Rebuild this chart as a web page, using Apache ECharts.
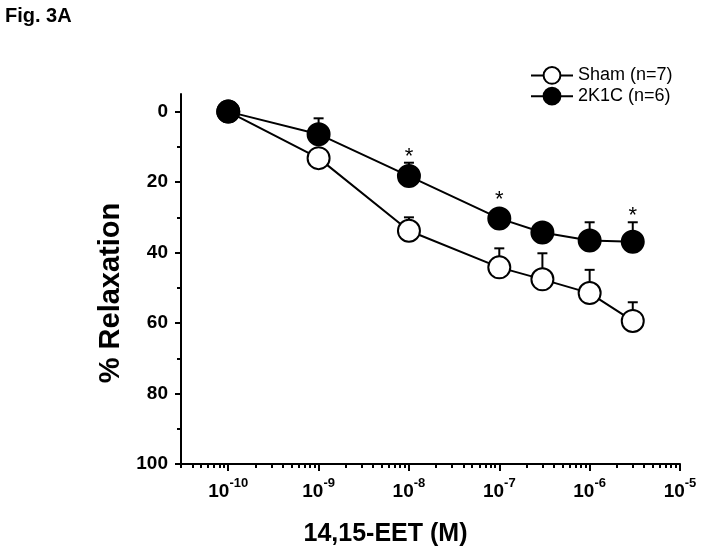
<!DOCTYPE html>
<html>
<head>
<meta charset="utf-8">
<script src="https://cdn.jsdelivr.net/npm/echarts@6/dist/echarts.min.js"></script>
<style>
html,body{margin:0;padding:0;background:#fff;}
#chart{width:704px;height:555px;}
</style>
</head>
<body>
<div id="chart"></div>
<script>
// ---- data ----
var concentrations = [1e-10, 1e-9, 1e-8, 1e-7, 3e-7, 1e-6, 3e-6];
var shamValues = [0, 13.2, 33.8, 44.2, 47.6, 51.5, 59.4];
var shamErrors = [0, 0, 3.8, 5.4, 7.4, 6.6, 5.3];
var k1cValues = [0, 6.4, 18.3, 30.3, 34.3, 36.6, 36.9];
var k1cErrors = [0, 4.5, 3.8, 0, 0, 5.2, 5.5];
var k1cSignificant = [false, false, true, true, false, false, true];
var xMajorTicks = [1e-10, 1e-9, 1e-8, 1e-7, 1e-6, 1e-5];
var xMinorTicks = [3e-11, 4e-11, 5e-11, 6e-11, 7e-11, 8e-11, 9e-11,
  2e-10, 3e-10, 4e-10, 5e-10, 6e-10, 7e-10, 8e-10, 9e-10,
  2e-9, 3e-9, 4e-9, 5e-9, 6e-9, 7e-9, 8e-9, 9e-9,
  2e-8, 3e-8, 4e-8, 5e-8, 6e-8, 7e-8, 8e-8, 9e-8,
  2e-7, 3e-7, 4e-7, 5e-7, 6e-7, 7e-7, 8e-7, 9e-7,
  2e-6, 3e-6, 4e-6, 5e-6, 6e-6, 7e-6, 8e-6, 9e-6];
var yMajorTicks = [0, 20, 40, 60, 80, 100];
var yMinorTicks = [10, 30, 50, 70, 90];
var seriesNames = ['Sham (n=7)', '2K1C (n=6)'];

// ---- build ----
function pairs(vals) { return concentrations.map(function (c, i) { return [c, vals[i]]; }); }
function triples(vals, errs) { return concentrations.map(function (c, i) { return [c, vals[i], errs[i]]; }); }
var FONT = '"Liberation Sans", Arial, sans-serif';

function errorBarRender(params, api) {
  var x = api.value(0), v = api.value(1), e = api.value(2);
  if (!(e > 0)) return null;
  var p = api.coord([x, v]);
  var q = api.coord([x, v - e]);
  var st = { stroke: '#000', lineWidth: 2 };
  return {
    type: 'group',
    children: [
      { type: 'line', shape: { x1: p[0], y1: p[1], x2: q[0], y2: q[1] }, style: st },
      { type: 'line', shape: { x1: q[0] - 5, y1: q[1], x2: q[0] + 5, y2: q[1] }, style: st }
    ]
  };
}

function starRender(params, api) {
  var idx = params.dataIndex;
  if (!k1cSignificant[idx]) return null;
  var x = api.value(0), v = api.value(1), e = api.value(2);
  var p = api.coord([x, v]);
  var q = api.coord([x, v - e]);
  var top = Math.min(q[1], p[1] - 12);
  return {
    type: 'text',
    style: {
      text: '*', x: p[0], y: top - 6,
      fontSize: 22, fontFamily: FONT, fill: '#000',
      align: 'center', verticalAlign: 'middle'
    }
  };
}

var chart = echarts.init(document.getElementById('chart'), null, { renderer: 'canvas' });
var option = {
  animation: false,
  backgroundColor: '#fff',
  title: {
    text: 'Fig. 3A', left: 0, top: 1,
    textStyle: { fontFamily: FONT, fontWeight: 'bold', fontSize: 20, color: '#000' }
  },
  legend: {
    orient: 'vertical', left: 525, top: 61,
    itemWidth: 42, itemHeight: 21, itemGap: 2,
    data: seriesNames,
    textStyle: { fontFamily: FONT, fontSize: 18, color: '#000' }
  },
  grid: { left: 181, right: 24, top: 94, bottom: 91, containLabel: false },
  xAxis: [{
    type: 'log', logBase: 10, min: 3e-11, max: 1e-5, position: 'bottom',
    name: '14,15-EET (M)', nameLocation: 'middle', nameGap: 58,
    nameTextStyle: { fontFamily: FONT, fontWeight: 'bold', fontSize: 25, color: '#000', padding: [0, 90, 0, 0] },
    axisLine: { show: true, onZero: false, lineStyle: { color: '#000', width: 2 } },
    axisTick: { show: true, customValues: xMajorTicks, length: 7, lineStyle: { color: '#000', width: 2 } },
    axisLabel: {
      customValues: xMajorTicks, margin: 13, color: '#000',
      formatter: function (val) {
        var ex = Math.round(Math.log10(val));
        return '{b|10}{s|' + ex + '}';
      },
      rich: {
        b: { fontFamily: FONT, fontWeight: 'bold', fontSize: 19, color: '#000', verticalAlign: 'bottom', lineHeight: 24 },
        s: { fontFamily: FONT, fontWeight: 'bold', fontSize: 13, color: '#000', verticalAlign: 'top', lineHeight: 24 }
      }
    },
    splitLine: { show: false }
  }, {
    type: 'log', logBase: 10, min: 3e-11, max: 1e-5, position: 'bottom',
    axisLine: { show: false, onZero: false },
    axisTick: { show: true, customValues: xMinorTicks, length: 4, lineStyle: { color: '#000', width: 2 } },
    axisLabel: { show: false },
    splitLine: { show: false }
  }],
  yAxis: [{
    type: 'value', inverse: true, min: -5, max: 100, position: 'left',
    name: '% Relaxation', nameLocation: 'middle', nameGap: 55, nameRotate: 90,
    nameTextStyle: { fontFamily: FONT, fontWeight: 'bold', fontSize: 29, color: '#000', padding: [0, 28, 0, 0] },
    axisLine: { show: true, onZero: false, lineStyle: { color: '#000', width: 2 } },
    axisTick: { show: true, customValues: yMajorTicks, length: 6, lineStyle: { color: '#000', width: 2 } },
    axisLabel: { customValues: yMajorTicks, margin: 13, fontFamily: FONT, fontWeight: 'bold', fontSize: 19, color: '#000' },
    splitLine: { show: false }
  }, {
    type: 'value', inverse: true, min: -5, max: 100, position: 'left',
    axisLine: { show: false, onZero: false },
    axisTick: { show: true, customValues: yMinorTicks, length: 4, lineStyle: { color: '#000', width: 2 } },
    axisLabel: { show: false },
    splitLine: { show: false }
  }],
  series: [
    {
      type: 'custom', name: 'shamErr', renderItem: errorBarRender,
      data: triples(shamValues, shamErrors), z: 1, silent: true
    },
    {
      type: 'custom', name: 'k1cErr', renderItem: errorBarRender,
      data: triples(k1cValues, k1cErrors), z: 1, silent: true
    },
    {
      type: 'line', name: seriesNames[0], data: pairs(shamValues),
      symbol: 'circle', symbolSize: 22,
      lineStyle: { color: '#000', width: 2 },
      itemStyle: { color: '#fff', borderColor: '#000', borderWidth: 2 },
      z: 3
    },
    {
      type: 'line', name: seriesNames[1], data: pairs(k1cValues),
      symbol: 'circle', symbolSize: 22,
      lineStyle: { color: '#000', width: 2 },
      itemStyle: { color: '#000', borderColor: '#000', borderWidth: 2 },
      z: 4
    },
    {
      type: 'custom', name: 'stars', renderItem: starRender,
      data: triples(k1cValues, k1cErrors), z: 5, silent: true
    }
  ]
};
chart.setOption(option);
</script>
</body>
</html>
